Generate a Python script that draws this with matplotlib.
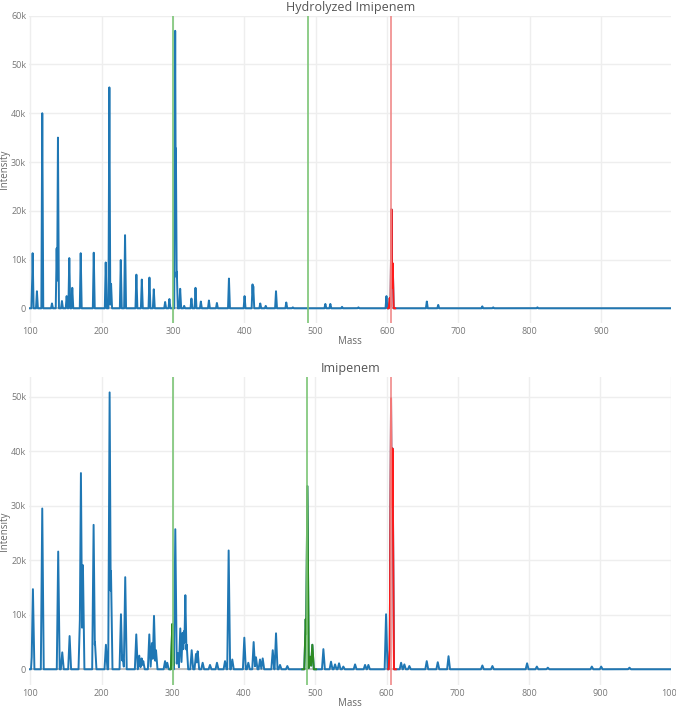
import numpy as np
import matplotlib
matplotlib.use("Agg")
import matplotlib.pyplot as plt

plt.rcParams['font.family'] = ['Open Sans', 'DejaVu Sans']

# ---- data (mass, intensity) ----
top_title = "Hydrolyzed Imipenem"
top_mass = [102.6, 103.1, 109.1, 116.6, 130.2, 136.8, 138.6, 144.2, 150.8, 154.5, 158.7,
            170.5, 188.8, 205.6, 210.7, 213.1, 226.7, 232.7, 248.6, 256.2, 266.9, 273.0,
            288.9, 294.9, 303.0, 304.0, 305.3, 310.0, 315.6, 325.8, 331.5, 339.0, 350.3,
            361.5, 378.4, 400.3, 411.5, 412.5, 422.3, 430.0, 444.4, 458.8, 468.0, 513.6,
            520.6, 537.0, 560.0, 599.3, 603.9, 606.3, 608.1, 655.9, 671.9, 733.7, 749.0,
            811.0]
top_int = [6000, 11300, 3500, 40000, 1000, 12300, 35000, 1500, 2500, 10300, 4200,
           11300, 11400, 9400, 45300, 5000, 9900, 15000, 6900, 5900, 6300, 3900,
           1300, 1900, 56900, 32800, 7500, 4000, 500, 2000, 4200, 1400, 1600,
           1100, 6100, 2500, 4900, 4500, 1000, 500, 3500, 1200, 200, 900,
           900, 300, 200, 2500, 2100, 20300, 9200, 1400, 700, 400, 200,
           200]

bot_title = "Imipenem"
bot_mass = [102.8, 103.5, 116.6, 139.0, 144.7, 155.0, 169.5, 170.9, 173.7, 188.7, 190.6,
            206.0, 211.2, 213.1, 227.1, 229.5, 233.1, 248.6, 252.8, 256.2, 258.4, 266.9,
            270.6, 273.5, 276.3, 289.0, 292.1, 299.2, 303.4, 306.7, 310.4, 313.7, 315.6,
            317.5, 319.4, 326.4, 332.4, 334.8, 341.8, 352.1, 361.9, 373.2, 378.3, 383.4,
            400.3, 405.9, 413.4, 416.7, 422.3, 426.1, 440.2, 444.8, 450.4, 460.7, 486.5,
            488.8, 492.6, 495.8, 511.3, 522.0, 527.7, 533.3, 539.3, 555.8, 569.8, 574.5,
            599.3, 604.9, 606.3, 607.5, 608.4, 620.4, 625.0, 632.0, 656.4, 671.9, 687.0,
            734.5, 748.6, 797.3, 811.0, 826.4, 888.2, 901.3, 941.0]
bot_int = [4300, 14700, 29500, 21600, 3100, 6100, 9000, 36000, 19100, 26500, 5000,
           4500, 50800, 18000, 10100, 2500, 16900, 6400, 2500, 2000, 1500, 6400,
           4800, 9800, 3500, 1500, 1200, 8300, 25700, 3000, 7500, 6700, 7000,
           13600, 4500, 3500, 2800, 3300, 1200, 800, 1200, 1500, 21800, 1800,
           5800, 1200, 5000, 2200, 1800, 2000, 3500, 6600, 800, 600, 9200,
           33600, 2300, 4500, 3700, 1400, 900, 1100, 500, 900, 800, 800,
           10100, 4800, 49700, 35300, 40500, 1200, 900, 600, 1500, 1300, 2400,
           700, 600, 1100, 500, 300, 500, 500, 300]

marker_green = [300, 489]
marker_red = [606]
top_windows = [(601.5, 611.5, 'red')]
bot_windows = [(296.5, 301.0, 'green'), (481.5, 501.0, 'green'), (602.5, 613.0, 'red')]

BLUE = '#1f77b4'
SEG = {'green': '#2e8b22', 'red': '#ff1a1a'}
VLINE = {'green': '#7cc576', 'red': '#f08a8a'}


def profile(grid, masses, ints, half):
    y = np.zeros_like(grid)
    for m, h in zip(masses, ints):
        y = np.maximum(y, h * np.clip(1 - np.abs(grid - m) / half, 0, None))
    return y


def draw(ax, masses, ints, windows, xmax, ylim, yticks, xticks, title, half,
         ax_h_px):
    grid = np.arange(98, xmax + 0.05, 0.1)
    y = profile(grid, masses, ints, half)
    ax.plot(grid, y, color=BLUE, lw=1.4, zorder=3)
    for lo, hi, c in windows:
        mask = (grid >= lo) & (grid <= hi)
        ax.plot(grid[mask], y[mask], color=SEG[c], lw=1.4, zorder=4)
    for m in marker_green:
        ax.axvline(m, color=VLINE['green'], lw=1.2, zorder=5)
    for m in marker_red:
        ax.axvline(m, color=VLINE['red'], lw=1.2, zorder=5)
    ax.axhline(0, color='#c0c0c0', lw=1.4, zorder=2)
    ax.set_xlim(98, xmax)
    ax.set_ylim(*ylim)
    ax.set_yticks(yticks)
    ax.set_yticklabels(['0' if t == 0 else f'{int(t/1000)}k' for t in yticks])
    ax.set_xticks(xticks)
    ax.set_xticklabels([str(t) for t in xticks])
    ax.grid(True, color='#eeeeee', lw=1.0, zorder=0)
    ax.set_axisbelow(True)
    for s in ax.spines.values():
        s.set_visible(False)
    ax.tick_params(axis='y', length=0, labelsize=6.5, labelcolor='#777777', pad=2)
    ax.tick_params(axis='x', length=0, labelsize=6.5, labelcolor='#777777', pad=3)
    ax.set_title(title, fontsize=9, color='#555555', pad=3)
    ax.set_xlabel('Mass', fontsize=7, color='#666666')
    ax.set_ylabel('Intensity', fontsize=7, color='#666666')
    ax.xaxis.set_label_coords(0.5, -19.0 / ax_h_px, transform=ax.transAxes)
    ax.yaxis.set_label_coords(-24.5 / 642.5, 0.5, transform=ax.transAxes)
    ax.xaxis.label.set_va('center')
    ax.yaxis.label.set_va('center')


fig = plt.figure(figsize=(6.76, 7.08), dpi=100)
ax1 = fig.add_axes([0.0429, 0.5438, 0.9504, 0.4343])
ax2 = fig.add_axes([0.0429, 0.0325, 0.9504, 0.4355])

draw(ax1, top_mass, top_int, top_windows, 999, (-3010, 60040),
     [0, 10000, 20000, 30000, 40000, 50000, 60000],
     [100, 200, 300, 400, 500, 600, 700, 800, 900], top_title, 1.3, 307.5)
draw(ax2, bot_mass, bot_int, bot_windows, 1000, (-2880, 53690),
     [0, 10000, 20000, 30000, 40000, 50000],
     [100, 200, 300, 400, 500, 600, 700, 800, 900, 1000], bot_title, 2.0, 308.3)

fig.savefig('out.png', dpi=100)
